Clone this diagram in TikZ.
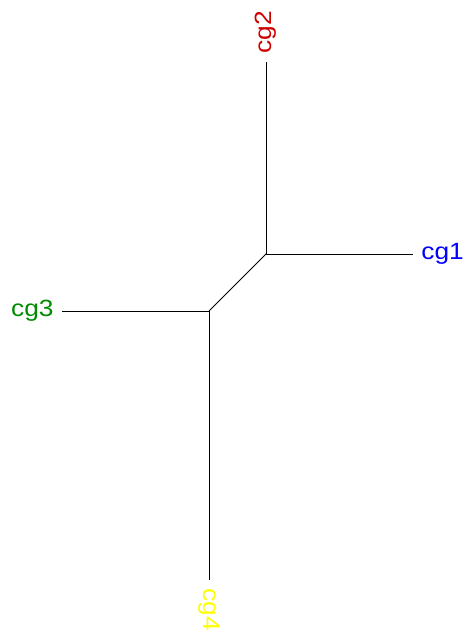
\documentclass[tikz,border=0pt]{standalone}
\usepackage{fontspec}
\setmainfont{Liberation Sans}
\usetikzlibrary{positioning}
\definecolor{tipred}{HTML}{CD0000}
\definecolor{tipblue}{HTML}{0000FF}
\definecolor{tipgreen}{HTML}{008B00}
\definecolor{tipyellow}{HTML}{FFFF00}
\def\fs{23.5}
\begin{document}
\begin{tikzpicture}[x=1pt,y=1pt,
    branch/.style={draw=black,line width=0.8pt},
    tip/.style={inner sep=0pt,outer sep=7.5pt,xscale=1.12,font=\fontsize{\fs}{\fs}\selectfont}]
  \useasboundingbox (0,0) rectangle (465,635);

  % internal nodes
  \coordinate (n5) at (266,381);
  \coordinate (n6) at (209,324);

  % tips
  \node[tip, text=tipblue, anchor=west] (cg1) at (413,381) {cg1};
  \node[rotate=90, tip, text=tipred, anchor=west] (cg2) at (266,573) {cg2};
  \node[tip, text=tipgreen, anchor=east] (cg3) at (62,324) {cg3};
  \node[rotate=-90, tip, text=tipyellow, anchor=west] (cg4) at (209,55) {cg4};

  % edges
  \draw[branch] (n5) -- (cg1.west);
  \draw[branch] (n5) -- (cg2.west);
  \draw[branch] (n5) -- (n6);
  \draw[branch] (n6) -- (cg3.east);
  \draw[branch] (n6) -- (cg4.west);

\end{tikzpicture}
\end{document}
